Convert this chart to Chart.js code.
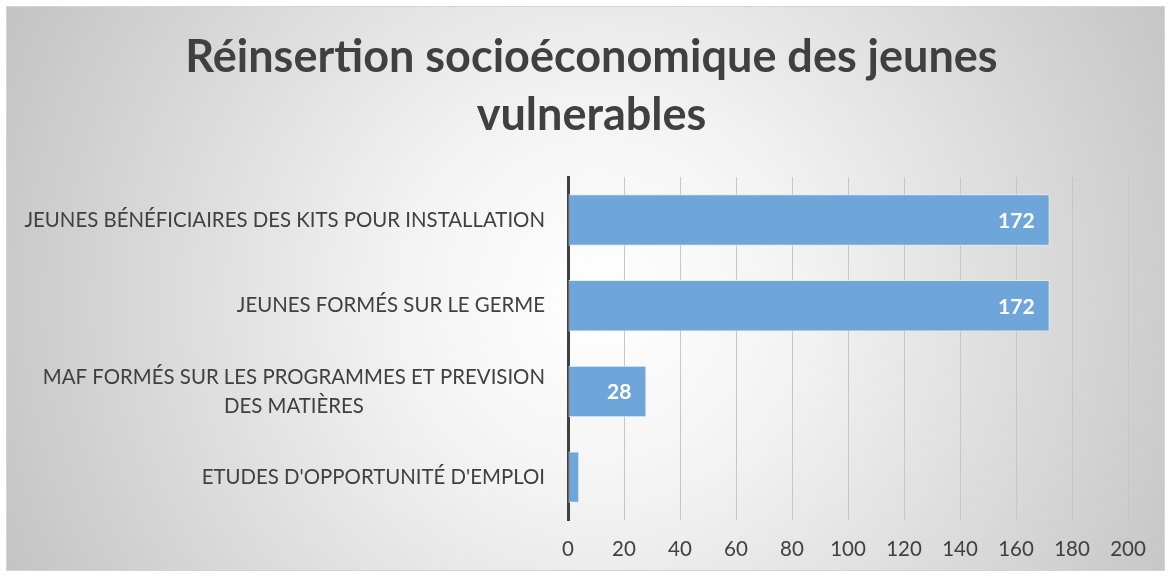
<!DOCTYPE html>
<html>
<head>
<meta charset="utf-8">
<script src="https://cdn.jsdelivr.net/npm/chart.js@4.4.1/dist/chart.umd.min.js"></script>
<style>
  html, body { margin: 0; padding: 0; background: #ffffff; }
  #wrap { width: 1171px; height: 577px; position: relative; }
</style>
</head>
<body>
<div id="wrap"><canvas id="c" width="1171" height="577"></canvas></div>
<script>
const titleLines = ['Réinsertion socioéconomique des jeunes', 'vulnerables'];
const categories = [
  ['JEUNES BÉNÉFICIAIRES DES KITS POUR INSTALLATION'],
  ['JEUNES FORMÉS SUR LE GERME'],
  ['MAF FORMÉS SUR LES PROGRAMMES ET PREVISION', 'DES MATIÈRES'],
  ["ETUDES D'OPPORTUNITÉ D'EMPLOI"]
];
const values = [172, 172, 28, 4];
const shownLabels = [true, true, true, false];
const xMin = 0;
const xMax = 200;
const xStep = 20;

const FONT = 'Lato, "Open Sans", sans-serif';
const TEXT = '#404040';

const bgPlugin = {
  id: 'bg',
  beforeDraw(chart) {
    const ctx = chart.ctx;
    const w = chart.width, h = chart.height;
    ctx.save();
    ctx.fillStyle = '#ffffff';
    ctx.fillRect(0, 0, w, h);
    const cx = 600, cy = 300;
    const g = ctx.createRadialGradient(cx, cy, 0, cx, cy, 660);
    g.addColorStop(0, '#ffffff');
    g.addColorStop(0.3, '#f3f3f3');
    g.addColorStop(1, '#c3c3c3');
    ctx.fillStyle = g;
    ctx.fillRect(6, 6, 1159, 565);
    ctx.strokeStyle = '#d4d4d4';
    ctx.lineWidth = 1;
    ctx.strokeRect(6.5, 6.5, 1158, 564);
    ctx.restore();
  }
};

const labelsPlugin = {
  id: 'catLabels',
  afterDraw(chart) {
    const ctx = chart.ctx;
    const yScale = chart.scales.y;
    const right = chart.chartArea.left - 23;
    const lh = 29;
    ctx.save();
    ctx.font = '20.4px ' + FONT;
    ctx.fillStyle = TEXT;
    ctx.textBaseline = 'middle';
    categories.forEach((lines, i) => {
      const yc = yScale.getPixelForTick(i);
      const widths = lines.map(l => ctx.measureText(l).width);
      const wMax = Math.max(...widths);
      const blockCenter = right - wMax / 2;
      const y0 = yc - (lines.length - 1) * lh / 2;
      ctx.textAlign = 'center';
      lines.forEach((l, j) => ctx.fillText(l, blockCenter, y0 + j * lh));
    });
    // value labels
    const meta = chart.getDatasetMeta(0);
    ctx.font = 'bold 21px ' + FONT;
    ctx.fillStyle = '#ffffff';
    ctx.textAlign = 'right';
    meta.data.forEach((bar, i) => {
      if (!shownLabels[i]) return;
      ctx.fillText(String(values[i]), bar.x - 15, bar.y + 1);
    });
    ctx.restore();
  }
};

new Chart(document.getElementById('c'), {
  type: 'bar',
  data: {
    labels: categories,
    datasets: [{
      data: values,
      backgroundColor: '#6fa6da',
      borderColor: 'rgba(225,236,248,0.9)',
      borderWidth: 1,
      borderSkipped: false,
      categoryPercentage: 1,
      barPercentage: 0.6
    }]
  },
  options: {
    indexAxis: 'y',
    responsive: false,
    animation: false,
    devicePixelRatio: 1,
    layout: { padding: { left: 55, right: 43, top: 0, bottom: 0 } },
    plugins: {
      legend: { display: false },
      tooltip: { enabled: false },
      title: {
        display: true,
        text: titleLines,
        color: TEXT,
        font: { family: FONT, size: 45, weight: 'bold', lineHeight: 1.28 },
        padding: { top: 29, bottom: 33 }
      }
    },
    scales: {
      x: {
        min: xMin, max: xMax,
        ticks: { stepSize: xStep, color: TEXT, font: { family: FONT, size: 20.5 }, padding: 17 },
        grid: { color: '#c6c6c6', lineWidth: 1, drawTicks: false },
        border: { display: false },
        afterFit(s) { s.height = 57; }
      },
      y: {
        ticks: { display: false },
        grid: { display: false, drawTicks: false },
        border: { display: true, color: '#404040', width: 3 },
        afterFit(s) { s.width = 513; }
      }
    }
  },
  plugins: [bgPlugin, labelsPlugin]
});
</script>
</body>
</html>
